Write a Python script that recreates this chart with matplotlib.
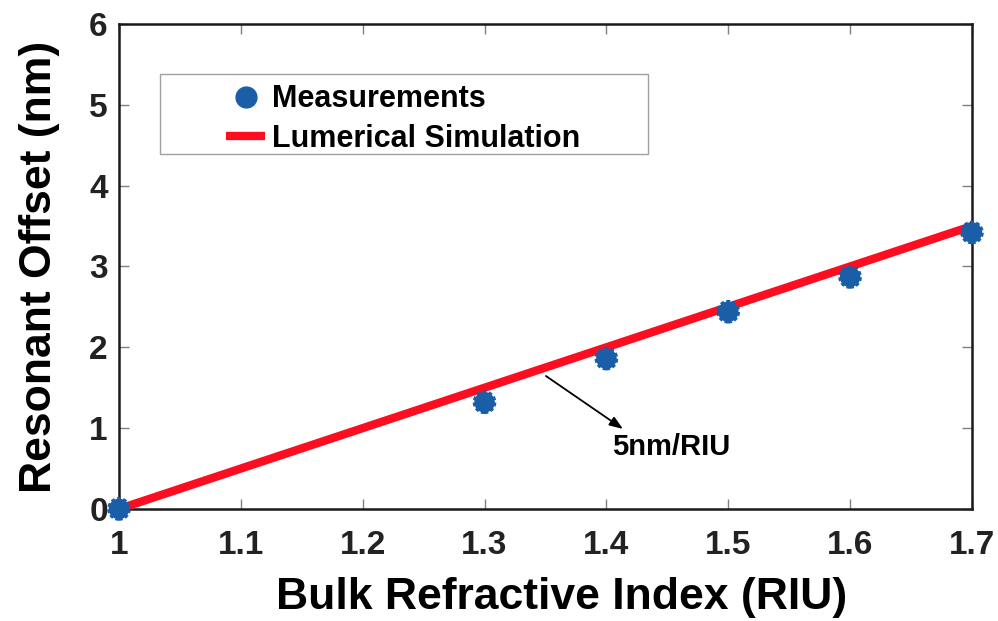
import matplotlib
matplotlib.use("Agg")
import matplotlib.pyplot as plt
from matplotlib.patches import Rectangle
from matplotlib.lines import Line2D

# Measured resonance shifts versus bulk refractive index
ri_measured = [1.0, 1.3, 1.4, 1.5, 1.6, 1.7]
offset_measured = [0.0, 1.32, 1.86, 2.44, 2.87, 3.42]

# Simulated response: 5 nm/RIU sensitivity
ri_sim = [1.0, 1.7]
offset_sim = [0.0, 3.5]

x_ticks = [1, 1.1, 1.2, 1.3, 1.4, 1.5, 1.6, 1.7]
x_tick_labels = ["1", "1.1", "1.2", "1.3", "1.4", "1.5", "1.6", "1.7"]
y_ticks = [0, 1, 2, 3, 4, 5, 6]

plt.rcParams["font.family"] = ["Liberation Sans", "DejaVu Sans"]
plt.rcParams["font.weight"] = "bold"

blue = "#1a5ea8"
red = "#fc0d1f"

fig = plt.figure(figsize=(9.98, 6.21), dpi=100)
ax = fig.add_axes([0.1192, 0.1804, 0.8547, 0.7810])

ax.plot(ri_sim, offset_sim, color=red, lw=6.0, solid_capstyle="butt", zorder=3,
        label="Lumerical Simulation")
ax.scatter(ri_measured, offset_measured, s=220, color=blue, edgecolors=blue,
           linewidths=2.2, linestyles=(0, (1.2, 0.8)), zorder=4, clip_on=False)

ax.set_xlim(1, 1.7)
ax.set_ylim(0, 6)
ax.set_xticks(x_ticks)
ax.set_xticklabels(x_tick_labels)
ax.set_yticks(y_ticks)

ax.tick_params(direction="in", length=7, width=1, color="#808080",
               top=True, right=True, labelsize=24)
ax.tick_params(axis="x", pad=15)
ax.tick_params(axis="y", pad=8)
for lab in ax.get_xticklabels() + ax.get_yticklabels():
    lab.set_fontweight("bold")
    lab.set_color("#222222")
for sp in ax.spines.values():
    sp.set_linewidth(1.8)
    sp.set_color("#1a1a1a")

ax.set_xlabel("Bulk Refractive Index (RIU)", fontsize=32, fontweight="bold")
ax.set_ylabel("Resonant Offset (nm)", fontsize=32, fontweight="bold")
ax.xaxis.set_label_coords(0.519, -0.140)
ax.yaxis.set_label_coords(-0.0695, 0.5)

# Sensitivity annotation
ax.annotate("", xy=(1.4136, 0.99), xytext=(1.3504, 1.645),
            arrowprops=dict(arrowstyle="-|>,head_length=0.8,head_width=0.3",
                            color="black", lw=1.3, shrinkA=0, shrinkB=0))
ax.text(1.4046, 0.77, "5nm/RIU", fontsize=21, fontweight="bold",
        ha="left", va="center")

# Legend with a light grey frame
ax.add_patch(Rectangle((0.048, 0.732), 0.572, 0.165, transform=ax.transAxes,
                       facecolor="white", edgecolor="#a0a0a0", lw=1.0,
                       zorder=5))
handles = [
    Line2D([], [], marker="o", linestyle="none", markersize=15,
           markerfacecolor=blue, markeredgecolor=blue),
    Line2D([], [], color=red, lw=6.0, solid_capstyle="butt"),
]
leg = ax.legend(handles, ["Measurements", "Lumerical Simulation"],
                loc="upper left", bbox_to_anchor=(0.118, 0.888),
                frameon=False, fontsize=22, handlelength=1.3,
                handletextpad=0.2, labelspacing=0.3, borderpad=0.2,
                borderaxespad=0)
leg.set_zorder(6)
for t in leg.get_texts():
    t.set_fontweight("bold")

fig.savefig("out.png", dpi=100)
